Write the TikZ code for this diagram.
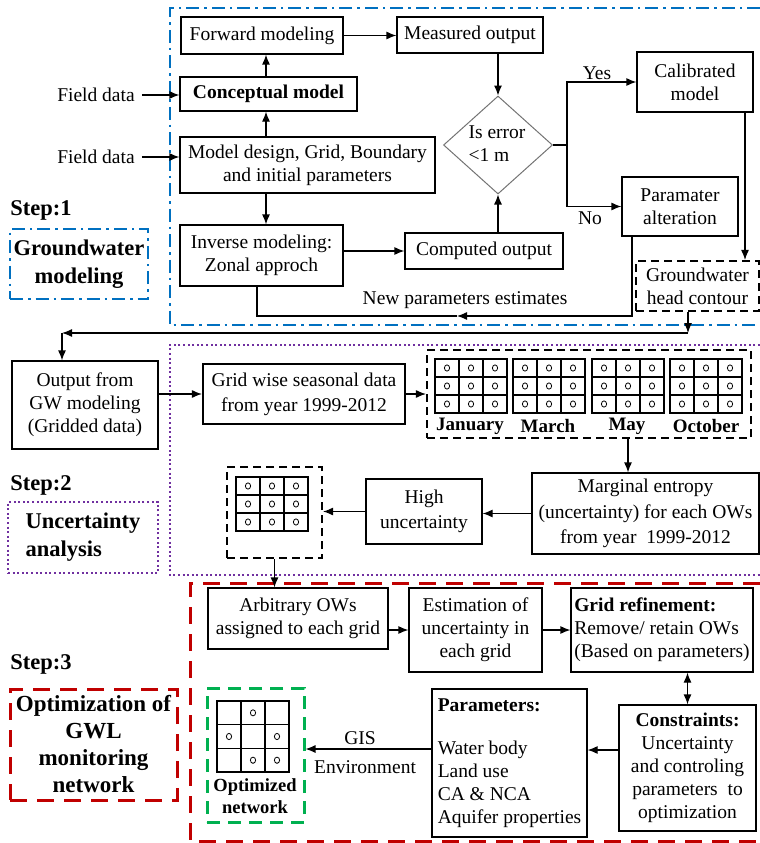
\documentclass[tikz,border=0pt]{standalone}
\usepackage{fontspec}
\setmainfont{Liberation Serif}
\usetikzlibrary{arrows.meta,shapes.geometric,calc}
\definecolor{fblue}{HTML}{0070C0}
\definecolor{fpurple}{HTML}{7030A0}
\definecolor{fred}{HTML}{C00000}
\definecolor{fgreen}{HTML}{00B050}
\tikzset{owgrid/.pic={
  \draw[line width=1.1pt] (0,0) rectangle (72,-54);
  \draw[line width=1.1pt] (24,0) -- (24,-54) (48,0) -- (48,-54) (0,-18) -- (72,-18) (0,-36) -- (72,-36);
  \foreach \cx in {12,36,60} {\foreach \cy in {-9,-27,-45} {\draw[line width=0.8pt] (\cx,\cy) ellipse [x radius=2.6, y radius=3.1];}}
}}
\begin{document}
\begin{tikzpicture}[x=1pt,y=1pt,
  every node/.style={font=\fontsize{19.5}{23}\selectfont},
  bx/.style={draw, line width=1.2pt, inner sep=0pt, align=center},
  lbl/.style={inner sep=0pt, align=center},
  boldlbl/.style={font=\fontsize{22.5}{28}\selectfont\bfseries},
  arr/.style={line width=1.2pt, -{Latex[length=10pt,width=8pt]}},
  ln/.style={line width=1.2pt},
  bluefr/.style={draw=fblue, line width=2.9pt, dash pattern=on 13pt off 5pt on 2.5pt off 5pt},
  purplefr/.style={draw=fpurple, line width=2.8pt, dash pattern=on 2pt off 2.6pt},
  redfr/.style={draw=fred, line width=3pt, dash pattern=on 17pt off 10pt},
  greenfr/.style={draw=fgreen, line width=3pt, dash pattern=on 13pt off 8pt},
  blkdash/.style={draw, line width=2.1pt, dash pattern=on 8pt off 5pt}
]
\useasboundingbox (0,0) rectangle (760,-843);

% ---------- frames ----------
\draw[bluefr] (760,-8) -- (170,-8) -- (170,-325) -- (760,-325);
\draw[purplefr] (760,-345) -- (170,-345) -- (170,-575) -- (760,-575);
\draw[redfr] (760,-583) -- (190,-583) -- (190,-841) -- (760,-841);

% ---------- Step 1 ----------
\node[bx, minimum width=162pt, minimum height=37pt] (fwd) at (262,-35.5) {Forward modeling};
\node[bx, minimum width=146pt, minimum height=36pt] (meas) at (470,-35) {Measured output};
\node[bx, minimum width=177pt, minimum height=34pt, font=\fontsize{19.5}{23}\selectfont\bfseries] (concept) at (268.5,-94) {Conceptual model};
\node[bx, minimum width=255pt, minimum height=56pt] (design) at (307.5,-165) {Model design, Grid, Boundary\\and initial parameters};
\node[bx, minimum width=163pt, minimum height=61pt] (inv) at (261.5,-255.5) {Inverse modeling:\\Zonal approch};
\node[bx, minimum width=158pt, minimum height=36pt] (comp) at (484,-251) {Computed output};
\node[draw=black!55, line width=1pt, diamond, minimum width=109pt, minimum height=98pt, inner sep=0pt] (dia) at (498,-145) {};
\node[lbl, align=left] (diatxt) at (497,-144) {Is error\\<1 m};
\node[bx, minimum width=116pt, minimum height=60pt] (cal) at (695,-82) {Calibrated\\model};
\node[bx, minimum width=116pt, minimum height=59pt] (par) at (680,-206.5) {Paramater\\alteration};
\node[blkdash, inner sep=0pt, align=center, minimum width=123pt, minimum height=50pt] (hc) at (697.5,-286) {Groundwater\\head contour};
\node[lbl] (fd1) at (96,-95) {Field data};
\node[lbl] (fd2) at (96,-157) {Field data};
\node[lbl] (yes) at (597,-73) {Yes};
\node[lbl] (no) at (590,-218) {No};
\node[lbl] (npe) at (465,-300) {New parameters estimates};
\node[lbl, boldlbl] (s1) at (41,-210) {Step:1};
\node[bluefr, inner sep=0pt, align=center, minimum width=138pt, minimum height=70pt, boldlbl] (gwm) at (79,-264) {Groundwater\\modeling};

\coordinate (colA) at (266,0);
\draw[arr] ([xshift=7pt]fd1.east) -- (concept.west |- fd1.east);
\draw[arr] ([xshift=7pt]fd2.east) -- (design.west |- fd2.east);
\draw[arr] (concept.north -| colA) -- (fwd.south -| colA);
\draw[arr] (design.north -| colA) -- (concept.south -| colA);
\draw[arr] (design.south -| colA) -- (inv.north -| colA);
\draw[arr] (fwd.east) -- (meas.west |- fwd.east);
\draw[arr] (meas.south -| dia.north) -- (dia.north);
\draw[arr] (comp.north -| dia.south) -- (dia.south);
\draw[arr] (inv.east |- comp.west) -- (comp.west);
\coordinate (split) at (567,-145);
\draw[ln] (dia.east) -- (split);
\draw[arr] (split) |- (cal.west);
\draw[arr] (split) |- (par.west);
\coordinate (calx) at (745,0);
\draw[arr] (cal.south -| calx) -- (hc.north -| calx);
\coordinate (np1) at (632,-316);
\coordinate (np2) at (457,-316);
\coordinate (np3) at (257,-316);
\draw[arr] (par.south -| np1) -- (np1) -- (np2);
\draw[ln] (np2) -- (np3) -- (inv.south -| np3);

% ---------- Step 2 ----------
\node[bx, minimum width=146pt, minimum height=88pt] (og) at (85,-405) {Output from\\GW modeling\\(Gridded data)};
\node[bx, line width=2.1pt, minimum width=202pt, minimum height=60pt, font=\fontsize{19.5}{25}\selectfont] (gws) at (304,-394) {Grid wise seasonal data\\from year 1999-2012};
\node[blkdash, inner sep=0pt, minimum width=324pt, minimum height=88pt] (months) at (589,-394) {};
\pic at (435,-359) {owgrid};
\pic at (513,-359) {owgrid};
\pic at (592,-359) {owgrid};
\pic at (670,-359) {owgrid};
\node[lbl, font=\fontsize{19}{23}\selectfont\bfseries] (jan) at (470,-426) {January};
\node[lbl, font=\fontsize{19}{23}\selectfont\bfseries] (mar) at (548,-426) {March};
\node[lbl, font=\fontsize{19}{23}\selectfont\bfseries] (may) at (627,-426) {May};
\node[lbl, font=\fontsize{19}{23}\selectfont\bfseries] (oct) at (706,-426) {October};
\node[bx, minimum width=227pt, minimum height=81pt, font=\fontsize{19.5}{25.5}\selectfont] (marg) at (645.5,-513.5) {Marginal entropy\\(uncertainty) for each OWs\\from year\ \ 1999-2012};
\node[bx, minimum width=116pt, minimum height=65pt, font=\fontsize{19.5}{25}\selectfont] (high) at (424,-511.5) {High\\uncertainty};
\node[blkdash, inner sep=0pt, minimum width=95pt, minimum height=91pt] (sd) at (274.5,-512.5) {};
\pic at (236,-477) {owgrid};
\node[lbl, boldlbl] (s2) at (41,-485) {Step:2};
\node[purplefr, inner sep=0pt, align=left, minimum width=150pt, minimum height=71pt, boldlbl] (ua) at (83,-537.5) {Uncertainty\\analysis};

\coordinate (c1) at (688,-333);
\coordinate (c2) at (62,-333);
\draw[arr] (hc.south -| c1) -- (c1);
\draw[arr] (c1) -- (c2);
\draw[arr] (c2) -- (og.north -| c2);
\draw[arr] (og.east |- gws.west) -- (gws.west);
\draw[arr] (gws.east) -- (months.west |- gws.east);
\coordinate (colM) at (628,0);
\draw[arr] (months.south -| colM) -- (marg.north -| colM);
\draw[arr] (marg.west) -- (marg.west -| high.east);
\draw[arr] (high.west) -- (high.west -| sd.east);

% ---------- Step 3 ----------
\node[bx, minimum width=180pt, minimum height=61pt] (arb) at (298,-618.5) {Arbitrary OWs\\assigned to each grid};
\node[bx, minimum width=133pt, minimum height=84pt] (est) at (475.5,-630) {Estimation of\\uncertainty in\\each grid};
\node[bx, minimum width=182pt, minimum height=84pt, align=left] (grf) at (662,-630) {\textbf{Grid refinement:}\\Remove/ retain OWs\\(Based on parameters)};
\node[bx, minimum width=137pt, minimum height=126pt] (cons) at (687.5,-768) {\textbf{Constraints:}\\Uncertainty\\and controling\\parameters\ \ to\\optimization};
\node[bx, minimum width=155pt, minimum height=148pt, align=left] (params) at (509.5,-763) {\textbf{Parameters:}\\[20pt]Water body\\Land use\\CA \& NCA\\Aquifer properties};
\node[greenfr, inner sep=0pt, minimum width=97pt, minimum height=134pt] (gb) at (255.5,-755) {};
\draw[line width=1.1pt] (217,-701) rectangle (289,-772);
\draw[line width=1.1pt] (241,-701) -- (241,-772) (265,-701) -- (265,-772) (217,-724.7) -- (289,-724.7) (217,-748.3) -- (289,-748.3);
\foreach \px/\py in {253/-712.8, 229/-736.5, 277/-736.5, 253/-760.2, 277/-760.2}
  {\draw[line width=0.8pt] (\px,\py) ellipse [x radius=2.6, y radius=3.1];}
\node[lbl, font=\fontsize{18.5}{22}\selectfont\bfseries] (optn) at (255,-796) {Optimized\\network};
\node[lbl] (gis) at (360,-738) {GIS};
\node[lbl] (env) at (365,-767) {Environment};
\node[lbl, boldlbl] (s3) at (41,-664) {Step:3};
\node[redfr, inner sep=0pt, minimum width=167pt, minimum height=111pt, font=\fontsize{23}{27}\selectfont\bfseries, align=center] (ob) at (93.5,-744.5) {Optimization of\\GWL\\monitoring\\network};

\draw[arr] (sd.south) -- (sd.south |- arb.north);
\draw[arr] (est.west -| arb.east) -- (est.west);
\draw[arr] (est.east) -- (grf.west);
\draw[line width=1.2pt, {Latex[length=10pt,width=8pt]}-{Latex[length=10pt,width=8pt]}] (cons.north |- grf.south) -- (cons.north);
\coordinate (cw) at ([yshift=18pt]cons.west);
\draw[arr] (cw) -- (cw -| params.east);
\coordinate (pw) at ([yshift=14pt]params.west);
\draw[arr] (pw) -- (pw -| gb.east);
\end{tikzpicture}
\end{document}
